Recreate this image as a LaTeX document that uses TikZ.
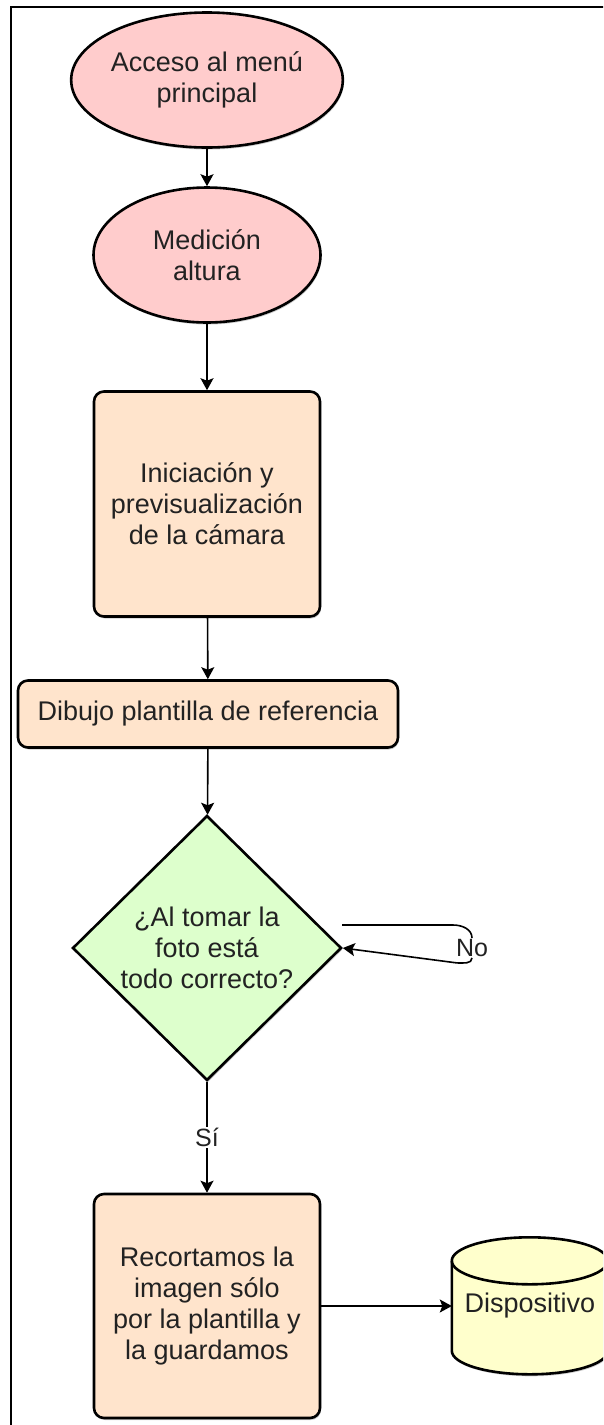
\documentclass[tikz,border=0pt]{standalone}
\usepackage{fontspec}
\setmainfont{Liberation Sans}
\usepackage{tikz}
\usetikzlibrary{shapes.geometric}
\usetikzlibrary{arrows.meta}
\usetikzlibrary{shadows}
\definecolor{pinkfill}{HTML}{FFCCCC}
\definecolor{peachfill}{HTML}{FFE4CC}
\definecolor{greenfill}{HTML}{DDFFCC}
\definecolor{yellowfill}{HTML}{FFFFCC}
\definecolor{inkgray}{HTML}{222222}
\tikzset{shp/.style={draw, line width=2.6pt, text=inkgray, align=center, inner sep=0pt,
  font=\fontsize{27}{31}\selectfont,
  drop shadow={shadow xshift=1pt, shadow yshift=-2pt, fill=black!40, opacity=0.5}}}
\tikzset{oval/.style={shp, ellipse, fill=pinkfill, minimum width=227pt, minimum height=135pt}}
\tikzset{procbox/.style={shp, rectangle, rounded corners=10pt, fill=peachfill}}
\tikzset{decision/.style={shp, diamond, fill=greenfill, minimum width=269pt, minimum height=265pt}}
\tikzset{lbl/.style={text=inkgray, fill=white, inner sep=1pt, font=\fontsize{25}{28}\selectfont}}
\tikzset{conn/.style={line width=1.6pt, -{Stealth[length=12pt, width=13pt, inset=2.5pt]}}}

\begin{document}
\begin{tikzpicture}[x=1pt, y=-1pt]

\useasboundingbox (0,0) rectangle (603,1425);
\clip (0,0) rectangle (603,1425);
\draw [line width=2pt] (11,7) rectangle (660,1460);

\node [oval] (menu) at (207,80) {Acceso al menú\\principal};
\node [oval] (altura) at (207,255) {Medición\\altura};
\node [procbox, minimum width=226pt, minimum height=225pt] (camara) at (207,504) {Iniciación y\\previsualización\\de la cámara};
\node [procbox, minimum width=380pt, minimum height=67pt] (plantilla) at (208,714) {Dibujo plantilla de referencia};
\node [decision] (foto) at (207,948) {¿Al tomar la\\foto está\\todo correcto?};
\node [procbox, minimum width=226pt, minimum height=224pt] (recorte) at (207,1306) {Recortamos la\\imagen sólo\\por la plantilla y\\la guardamos};
\node [text=inkgray, inner sep=0pt, minimum width=156pt, minimum height=137pt, font=\fontsize{27}{31}\selectfont] (disp) at (530,1306) {};

% cilindro
\draw [line width=2.6pt, fill=yellowfill, drop shadow={shadow xshift=1pt, shadow yshift=-2pt, fill=black!40, opacity=0.5}]
  (disp.north west) ++(0,23.5) -- ++(0,90) arc [start angle=180, end angle=360, x radius=78pt, y radius=23.5pt]
  -- ++(0,-90) arc [start angle=0, end angle=180, x radius=78pt, y radius=23.5pt] -- cycle;
\draw [line width=2.6pt] (disp.north west) ++(0,23.5) arc [start angle=180, end angle=360, x radius=78pt, y radius=23.5pt];
\node [text=inkgray, font=\fontsize{27}{31}\selectfont] at (disp) {Dispositivo};

\draw [conn] (menu) -- (altura);
\draw [conn] (altura) -- (camara);
\draw [conn] (camara) -- (plantilla);
\draw [conn] (plantilla) -- (foto);
\draw [conn] (foto) -- node [lbl] {Sí} (recorte);
\draw [conn] (recorte) -- (disp.west);

\coordinate (nostart) at (342,925);
\node [lbl] (no) at (472,948) {No};
\draw [line width=1.6pt] (nostart) -- ++(111,0) to [out=0, in=90] (no.north);
\draw [conn] (no.south) to [out=-90, in=0] ++(-15,5) -- (foto.east);

\end{tikzpicture}
\end{document}
